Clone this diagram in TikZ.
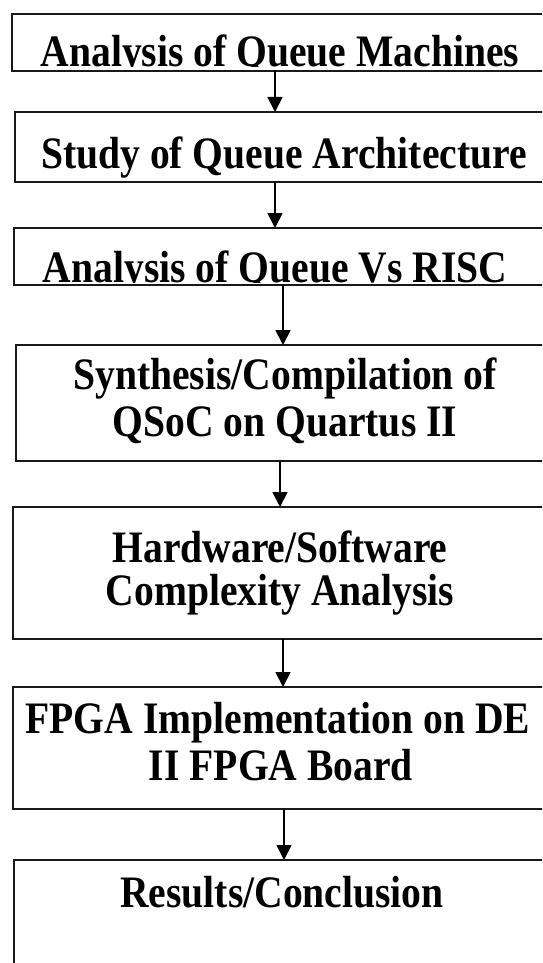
\documentclass[tikz,border=0pt]{standalone}
\usepackage{fontspec}
\setmainfont{Liberation Serif}[FakeStretch=0.88]
\usetikzlibrary{arrows.meta}
\begin{document}
\begin{tikzpicture}[x=1pt,y=-1pt,
  stepbox/.style={draw=black!90, line width=1.6pt, anchor=north west,
    inner sep=0pt, outer sep=0pt},
  caption/.style={anchor=base, inner sep=0pt,
    font=\fontsize{45}{50}\selectfont\bfseries},
  flow/.style={line width=1.8pt, -{Triangle[width=15pt,length=15pt]}}]
\useasboundingbox (0,0) rectangle (542,963);
\fill[white] (0,0) rectangle (542,963);
\clip (0,0) rectangle (542,963);

% process boxes (they run past the right edge of the page)
\node[stepbox, minimum width=560pt, minimum height=57pt]  (b1) at (12,14)  {};
\node[stepbox, minimum width=560pt, minimum height=70pt]  (b2) at (15,112) {};
\node[stepbox, minimum width=560pt, minimum height=57pt]  (b3) at (14,228) {};
\node[stepbox, minimum width=560pt, minimum height=116pt] (b4) at (16,345) {};
\node[stepbox, minimum width=560pt, minimum height=132pt] (b5) at (13,507) {};
\node[stepbox, minimum width=560pt, minimum height=122pt] (b6) at (13,687) {};
\node[stepbox, minimum width=560pt, minimum height=140pt] (b7) at (14,860) {};

% box texts (the first and third are cut off at their baseline)
\begin{scope}
  \clip (0,0) rectangle (542,67);
  \node[caption] (t1) at (280,67) {Analysis of Queue Machines};
\end{scope}
\node[caption] (t2) at (284,168) {Study of Queue Architecture};
\begin{scope}
  \clip (0,200) rectangle (542,282);
  \node[caption] (t3) at (275,282) {Analysis of Queue Vs RISC};
\end{scope}
\node[caption] (t4a) at (285,389) {Synthesis/Compilation of};
\node[caption] (t4b) at (285,436) {QSoC on Quartus II};
\node[caption] (t5a) at (280,562) {Hardware/Software};
\node[caption] (t5b) at (280,605) {Complexity Analysis};
\node[caption] (t6a) at (278,733) {FPGA Implementation on DE};
\node[caption] (t6b) at (281,780) {II FPGA Board};
\node[caption] (t7) at (282,907) {Results/Conclusion};

% arrow columns
\coordinate (x1) at (275,0);
\coordinate (x2) at (275,0);
\coordinate (x3) at (283,0);
\coordinate (x4) at (280,0);
\coordinate (x5) at (283,0);
\coordinate (x6) at (284,0);

\draw[flow] (x1 |- b1.south) -- (x1 |- b2.north);
\draw[flow] (x2 |- b2.south) -- (x2 |- b3.north);
\draw[flow] (x3 |- b3.south) -- (x3 |- b4.north);
\draw[flow] (x4 |- b4.south) -- (x4 |- b5.north);
\draw[flow] (x5 |- b5.south) -- (x5 |- b6.north);
\draw[flow] (x6 |- b6.south) -- (x6 |- b7.north);
\end{tikzpicture}
\end{document}
